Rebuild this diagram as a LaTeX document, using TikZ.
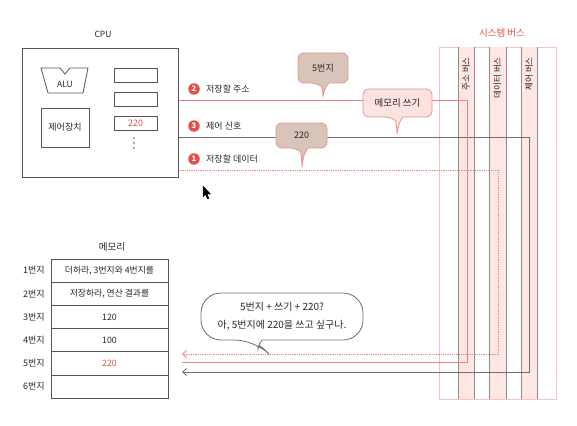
\documentclass[tikz,border=0pt]{standalone}
\usepackage{fontspec}
\setmainfont{Noto Sans CJK KR}
\usetikzlibrary{arrows.meta}
\definecolor{pinkline}{HTML}{E8857F}
\definecolor{redtxt}{HTML}{E0524A}
\definecolor{taupe}{HTML}{D8C5BA}
\definecolor{calloutborder}{HTML}{E9928C}
\definecolor{lightpink}{HTML}{FCE3E0}
\definecolor{busfill}{HTML}{FDE7E5}
\definecolor{busborder}{HTML}{F5C3BF}
\definecolor{grayline}{HTML}{6E6E6E}
\definecolor{boxline}{HTML}{555555}
\tikzset{
  lbl/.style={font=\fontsize{9}{11}\selectfont, text=black!85, inner sep=1pt},
  numcirc/.style={circle, fill=redtxt, text=white, inner sep=0pt, minimum size=11.5pt, font=\fontsize{7.5}{8}\selectfont\bfseries},
  regbox/.style={draw=boxline, line width=0.7pt, minimum width=43pt, minimum height=14pt, inner sep=0pt, font=\fontsize{9}{10}\selectfont},
  memrow/.style={draw=boxline, line width=0.7pt, minimum width=117pt, minimum height=23.2pt, inner sep=0pt, font=\fontsize{8.8}{10}\selectfont, text=black!85},
  buslbl/.style={rotate=90, anchor=east, font=\fontsize{8.5}{9}\selectfont, inner sep=0pt, text=black!85},
  pinkwire/.style={draw=pinkline, line width=1pt},
  dotwire/.style={draw=pinkline, line width=0.8pt, dash pattern=on 1pt off 0.8pt},
  graywire/.style={draw=grayline, line width=0.8pt},
  tip/.style={-{Straight Barb[length=4pt,width=7pt]}},
  callout/.style={draw=calloutborder, line width=0.8pt, rounded corners=6pt},
}
\begin{document}
\begin{tikzpicture}[x=1pt,y=-1pt]
\useasboundingbox (0,0) rectangle (577,425);
\fill[white] (0,0) rectangle (577,425);

% ---------- system bus ----------
\node[font=\fontsize{9.5}{11}\selectfont, text=redtxt] (sbus) at (502,33) {시스템 버스};
\draw[busborder, line width=0.7pt] (439,47) rectangle (556,399);
\fill[busfill] (458,47) rectangle (474,399);
\fill[busfill] (489,47) rectangle (506,399);
\fill[busfill] (521,47) rectangle (537,399);
\foreach \xx in {458,474,489,506,521,537}
  \draw[grayline!80, line width=0.7pt] (\xx,47) -- (\xx,399);
\node[buslbl] (abus) at (466,57) {주소 버스};
\node[buslbl] (dbus) at (497.5,57) {데이터 버스};
\node[buslbl] (cbus) at (529,57) {제어 버스};

% ---------- wires ----------
\coordinate (aw0) at (178,100);
\coordinate (aw1) at (467,100);
\coordinate (aw2) at (467,362);
\coordinate (aw3) at (182,362);
\coordinate (cw0) at (178,137);
\coordinate (cw1) at (529,137);
\coordinate (cw2) at (529,372);
\coordinate (cw3) at (182,372);
\coordinate (dw0) at (178,170);
\coordinate (dw1) at (498,170);
\coordinate (dw2) at (498,354);
\coordinate (dw3) at (182,354);
\draw[pinkwire] (aw0) -- (aw1);
\draw[graywire, tip] (cw0) -- (cw1) -- (cw2) -- (cw3);
\draw[dotwire, tip] (dw0) -- (dw1) -- (dw2) -- (dw3);
\draw[pinkwire] (aw1) -- (aw2) -- (aw3);

% ---------- wire labels ----------
\node[numcirc] (n2) at (194,89) {2};
\node[lbl, anchor=west] (l2) at (205,89) {저장할 주소};
\node[numcirc] (n3) at (194,126) {3};
\node[lbl, anchor=west] (l3) at (205,126) {제어 신호};
\node[numcirc] (n1) at (194,159) {1};
\node[lbl, anchor=west] (l1) at (205,159) {저장할 데이터};

% ---------- callouts ----------
\filldraw[callout, fill=taupe] (329,83) -- (348,83) -- (348,53) -- (298,53) -- (298,83) -- (317,83) [sharp corners] .. controls (321,86) and (323,90) .. (323,96) .. controls (324,90) and (326,86) .. (329,83) -- cycle;
\node[lbl] (c5) at (323,68) {5번지};

\filldraw[callout, fill=lightpink] (403,117) -- (432,117) -- (432,89) -- (363,89) -- (363,117) -- (391,117) [sharp corners] .. controls (395,120) and (397,126) .. (397,134) .. controls (398,126) and (400,120) .. (403,117) -- cycle;
\node[lbl, font=\fontsize{9.5}{11}\selectfont] (cwr) at (397.5,103) {메모리 쓰기};

\filldraw[callout, fill=taupe] (308,148) -- (327,148) -- (327,123) -- (276,123) -- (276,148) -- (296,148) [sharp corners] .. controls (300,151) and (302,157) .. (302,167) .. controls (303,157) and (305,151) .. (308,148) -- cycle;
\node[lbl] (c220) at (301.5,135.5) {220};

% ---------- CPU ----------
\node[font=\fontsize{8.5}{10}\selectfont, text=black!85] (cpul) at (103,34) {CPU};
\draw[boxline, line width=0.8pt] (22,48) rectangle (178,177);
\draw[boxline, line width=0.8pt] (41,68) -- (60,68) -- (65,74) -- (70,68) -- (88,68) -- (83,93) -- (48,93) -- cycle;
\node[lbl, font=\fontsize{8.5}{10}\selectfont] (alu) at (65,84) {ALU};
\node[draw=boxline, line width=0.8pt, minimum width=48pt, minimum height=39pt, inner sep=0pt, font=\fontsize{9}{10}\selectfont, text=black!85] (cu) at (65,127.5) {제어장치};
\node[regbox] (r1) at (135.5,75) {};
\node[regbox] (r2) at (135.5,99) {};
\node[regbox, text=redtxt] (r3) at (135.5,123.5) {220};
\foreach \yy in {138,143,148} \fill[boxline] (134,\yy) circle (0.9pt);

% ---------- memory ----------
\node[font=\fontsize{9.5}{11}\selectfont, text=black!85] (meml) at (112,247) {메모리};
\node[memrow] (m1) at (109.5,270.6) {더하라, 3번지와 4번지를};
\node[memrow] (m2) at (109.5,293.8) {저장하라, 연산 결과를};
\node[memrow] (m3) at (109.5,317) {120};
\node[memrow] (m4) at (109.5,340.2) {100};
\node[memrow, text=redtxt] (m5) at (109.5,363.4) {220};
\node[memrow] (m6) at (109.5,386.6) {};
\foreach \k/\yy in {1/270.6,2/293.8,3/317,4/340.2,5/363.4,6/386.6}
  \node[lbl] (addr\k) at (34,\yy) {{\k}번지};

% ---------- speech bubble ----------
\draw[grayline, line width=0.8pt, fill=white, rounded corners=20pt] (262,340) -- (363,340) -- (363,293) -- (201,293) -- (201,340) -- (255,340) [sharp corners] .. controls (257,342) and (258,345) .. (258,349) .. controls (259,345) and (260,342) .. (262,340) -- cycle;
\node[lbl, align=center, font=\fontsize{10}{12}\selectfont] (bub) at (282,316) {5번지 + 쓰기 + 220?\\[6pt]아, 5번지에 220을 쓰고 싶구나.};

% ---------- cursor ----------
\filldraw[black, line width=0.3pt] (203,186) -- (203,197) -- (205.5,194.5) -- (207.5,199) -- (209,198.3) -- (207,194) -- (210.5,194) -- cycle;
\end{tikzpicture}
\end{document}
